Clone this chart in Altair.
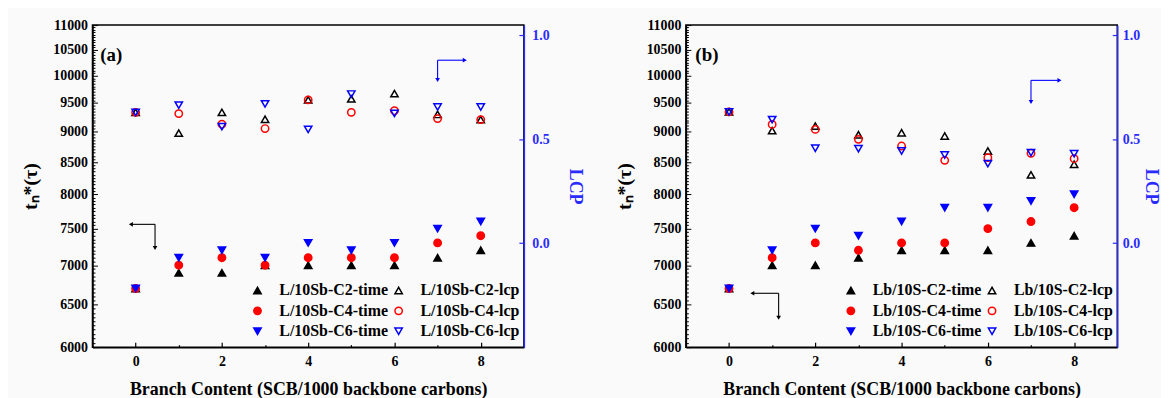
import altair as alt
import pandas as pd

FONT = "Liberation Serif"
W, H = 434, 324
AXIS_BLUE = "#2b2bff"

# ---------------- data ----------------
branch = [0, 1, 2, 3, 4, 5, 6, 7, 8]

# panel (a) L/10Sb
a_c2_time = [6700, 6900, 6900, 7000, 7000, 7000, 7000, 7100, 7200]
a_c4_time = [6700, 7000, 7100, 7000, 7100, 7100, 7100, 7300, 7400]
a_c6_time = [6700, 7100, 7200, 7100, 7300, 7200, 7300, 7500, 7600]
a_c2_lcp = [0.63, 0.53, 0.63, 0.597, 0.69, 0.695, 0.72, 0.62, 0.595]
a_c4_lcp = [0.63, 0.624, 0.573, 0.552, 0.69, 0.63, 0.638, 0.60, 0.595]
a_c6_lcp = [0.63, 0.665, 0.561, 0.671, 0.548, 0.718, 0.625, 0.656, 0.656]
a_time_names = ["L/10Sb-C2-time", "L/10Sb-C4-time", "L/10Sb-C6-time"]
a_lcp_names = ["L/10Sb-C2-lcp", "L/10Sb-C4-lcp", "L/10Sb-C6-lcp"]

# panel (b) Lb/10S
b_c2_time = [6700, 7000, 7000, 7100, 7200, 7200, 7200, 7300, 7400]
b_c4_time = [6700, 7100, 7300, 7200, 7300, 7300, 7500, 7600, 7800]
b_c6_time = [6700, 7200, 7500, 7400, 7600, 7800, 7800, 7900, 8000]
b_c2_lcp = [0.632, 0.542, 0.564, 0.522, 0.532, 0.516, 0.444, 0.329, 0.38]
b_c4_lcp = [0.632, 0.572, 0.548, 0.50, 0.468, 0.399, 0.412, 0.433, 0.407]
b_c6_lcp = [0.632, 0.595, 0.457, 0.455, 0.444, 0.425, 0.383, 0.436, 0.431]
b_time_names = ["Lb/10S-C2-time", "Lb/10S-C4-time", "Lb/10S-C6-time"]
b_lcp_names = ["Lb/10S-C2-lcp", "Lb/10S-C4-lcp", "Lb/10S-C6-lcp"]

# arrows: [corner, horizontal end] x ; [corner, vertical end] y
a_black_arrow_x = [0.45, -0.11]
a_black_arrow_y = [7560, 7230]
a_blue_arrow_x = [7.0, 7.63]
a_blue_arrow_y = [0.881, 0.786]
b_black_arrow_x = [1.15, 0.54]
b_black_arrow_y = [6640, 6340]
b_blue_arrow_x = [7.0, 7.66]
b_blue_arrow_y = [0.784, 0.68]

a_label = ["(a)", -0.82, 10400]
b_label = ["(b)", -0.78, 10400]

left_ticks_major = list(range(6000, 11001, 500))
left_ticks_minor = list(range(6000, 11001, 50))
lcp_ticks = [0.0, 0.5, 1.0]
x_major = [0, 2, 4, 6, 8]
x_all = list(range(0, 9))

# legend order: column 1 = time series, column 2 = lcp series
shape_range = ["triangle-up", "circle", "triangle-down",
               "triangle-up", "circle", "triangle-down"]
stroke_range = ["black", "red", "blue", "black", "red", "blue"]
fill_range = ["black", "red", "blue", "transparent", "transparent", "transparent"]

xs = alt.Scale(domain=[-1, 9], nice=False, zero=False)
ys_time = alt.Scale(type="log", domain=[6000, 11000], nice=False)
ys_lcp = alt.Scale(domain=[-0.5, 1.05], nice=False, zero=False)


def long_df(series, names):
    rows = []
    for vals, name in zip(series, names):
        for xv, v in zip(branch, vals):
            rows.append({"x": xv, "v": v, "series": name})
    return pd.DataFrame(rows)


def arrow(xl, yl, hdir, color, yscale):
    cx, hx = xl
    cy, vy = yl
    h = pd.DataFrame({"x": [cx], "x2": [hx], "y": [cy]})
    v = pd.DataFrame({"x": [cx], "y": [cy], "y2": [vy]})
    hh = pd.DataFrame({"x": [hx], "y": [cy]})
    vh = pd.DataFrame({"x": [cx], "y": [vy]})
    X = alt.X("x:Q", scale=xs, axis=None)
    Y = alt.Y("y:Q", scale=yscale, axis=None)
    return [
        alt.Chart(h).mark_rule(color=color, strokeWidth=1.1).encode(x=X, x2="x2:Q", y=Y),
        alt.Chart(v).mark_rule(color=color, strokeWidth=1.1).encode(x=X, y=Y, y2="y2:Q"),
        alt.Chart(hh).mark_point(shape="triangle-" + hdir, filled=True, size=22,
                                 color=color, opacity=1).encode(x=X, y=Y),
        alt.Chart(vh).mark_point(shape="triangle-down", filled=True, size=22,
                                 color=color, opacity=1).encode(x=X, y=Y),
    ]


def panel(times, lcps, tnames, lnames, black_ax, black_ay, blue_ax, blue_ay, label,
          r_label_pad, r_title_pad):
    tdf = long_df(times, tnames)
    ldf = long_df(lcps, lnames)
    names = tnames + lnames

    leg = alt.Legend(title=None, orient="none", legendX=158, legendY=259, columns=2,
                     padding=0, labelFont=FONT, labelFontSize=16,
                     labelFontWeight="bold", labelColor="black",
                     symbolSize=55, symbolStrokeWidth=1.5, rowPadding=4.5,
                     columnPadding=2, labelOffset=14, labelLimit=300)
    enc = dict(
        shape=alt.Shape("series:N", scale=alt.Scale(domain=names, range=shape_range), legend=leg),
        stroke=alt.Stroke("series:N", scale=alt.Scale(domain=names, range=stroke_range), legend=leg),
        fill=alt.Fill("series:N", scale=alt.Scale(domain=names, range=fill_range), legend=leg),
    )

    x_main = alt.Axis(orient="bottom", values=x_major, ticks=False, grid=False,
                      format="d", labelFont=FONT, labelFontSize=14,
                      labelFontWeight="bold", labelColor="black", labelPadding=7,
                      domainColor="black", domainWidth=1.5,
                      title="Branch Content (SCB/1000 backbone carbons)",
                      titleFont=FONT, titleFontSize=18, titleFontWeight="bold",
                      titleColor="black", titlePadding=13)
    y_main = alt.Axis(orient="left", values=left_ticks_major, ticks=False, grid=False,
                      format="d", labelFont=FONT, labelFontSize=14,
                      labelFontWeight="bold", labelColor="black", labelPadding=5,
                      domainColor="black", domainWidth=1.5,
                      title="tₙ*(τ)", titleFont=FONT, titleFontSize=20,
                      titleFontWeight="bold", titleColor="black", titlePadding=12)
    x_tick = alt.Axis(orient="top", offset=-H, values=x_all, labels=False,
                      domain=False, grid=False, title=None, tickColor="black",
                      tickWidth=1.2,
                      tickSize={"condition": {"test": "datum.value % 2 === 0", "value": 5},
                                "value": 2.5})
    y_tick = alt.Axis(orient="right", offset=-W, values=left_ticks_minor,
                      labels=False, domain=False, grid=False, title=None,
                      tickColor="black", tickWidth=1,
                      tickSize={"condition": {"test": "datum.value % 500 === 0", "value": 5},
                                "value": 2.5})
    r_main = alt.Axis(orient="right", values=lcp_ticks, ticks=False, grid=False,
                      format=".1f", labelFont=FONT, labelFontSize=14,
                      labelFontWeight="bold", labelColor=AXIS_BLUE,
                      labelPadding=r_label_pad,
                      domainColor=AXIS_BLUE, domainWidth=1.5,
                      title="LCP", titleFont=FONT, titleFontSize=18,
                      titleFontWeight="bold", titleColor=AXIS_BLUE,
                      titlePadding=r_title_pad)
    r_tick = alt.Axis(orient="left", offset=-W, values=lcp_ticks, labels=False,
                      domain=False, grid=False, title=None, tickColor=AXIS_BLUE,
                      tickWidth=1.2, tickSize=5)

    time_pts = alt.Chart(tdf).mark_point(size=55, strokeWidth=1.5, opacity=1).encode(
        x=alt.X("x:Q", scale=xs, axis=x_main),
        y=alt.Y("v:Q", scale=ys_time, axis=y_main), **enc)
    time_ticks = alt.Chart(tdf).mark_point(opacity=0).encode(
        x=alt.X("x:Q", scale=xs, axis=x_tick),
        y=alt.Y("v:Q", scale=ys_time, axis=y_tick))
    lbl = alt.Chart(pd.DataFrame({"t": [label[0]], "x": [label[1]], "y": [label[2]]})).mark_text(
        align="left", baseline="middle", font=FONT, fontSize=19, fontWeight="bold",
        color="black").encode(
        x=alt.X("x:Q", scale=xs, axis=None), y=alt.Y("y:Q", scale=ys_time, axis=None),
        text="t:N")
    time_layer = alt.layer(time_pts, time_ticks, lbl,
                           *arrow(black_ax, black_ay, "left", "black", ys_time))

    lcp_pts = alt.Chart(ldf).mark_point(size=55, strokeWidth=1.5, opacity=1).encode(
        x=alt.X("x:Q", scale=xs, axis=None),
        y=alt.Y("v:Q", scale=ys_lcp, axis=r_main), **enc)
    lcp_ticks_l = alt.Chart(ldf).mark_point(opacity=0).encode(
        x=alt.X("x:Q", scale=xs, axis=None),
        y=alt.Y("v:Q", scale=ys_lcp, axis=r_tick))
    lcp_layer = alt.layer(lcp_pts, lcp_ticks_l,
                          *arrow(blue_ax, blue_ay, "right", "blue", ys_lcp))

    return alt.layer(time_layer, lcp_layer).resolve_scale(y="independent").properties(
        width=W, height=H)


pa = panel([a_c2_time, a_c4_time, a_c6_time], [a_c2_lcp, a_c4_lcp, a_c6_lcp],
           a_time_names, a_lcp_names,
           a_black_arrow_x, a_black_arrow_y, a_blue_arrow_x, a_blue_arrow_y, a_label,
           8, 16)
pb = panel([b_c2_time, b_c4_time, b_c6_time], [b_c2_lcp, b_c4_lcp, b_c6_lcp],
           b_time_names, b_lcp_names,
           b_black_arrow_x, b_black_arrow_y, b_blue_arrow_x, b_blue_arrow_y, b_label,
           5, 2)

chart = alt.hconcat(pa, pb, spacing=29).resolve_scale(
    shape="independent", fill="independent", stroke="independent", x="independent"
).resolve_legend(
    shape="independent", fill="independent", stroke="independent"
).properties(
    padding={"left": 12, "top": 8, "right": 0, "bottom": 0},
    background="#fafafa",
).configure_view(stroke="black", strokeWidth=1.5)

chart.save("out.html", embed_options={"renderer": "svg", "actions": False})
